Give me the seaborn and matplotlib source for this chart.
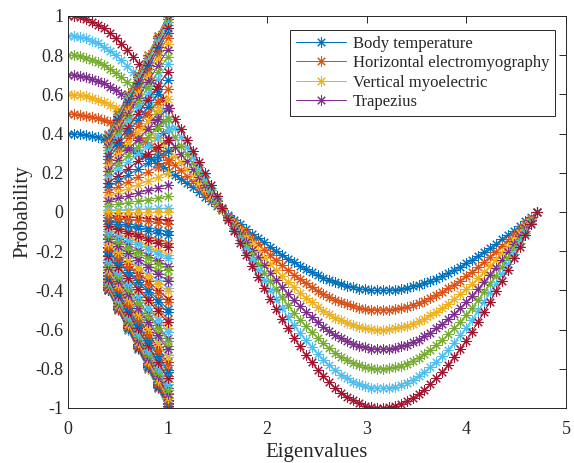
import numpy as np
import pandas as pd
import matplotlib
matplotlib.use("Agg")
import matplotlib.pyplot as plt
from matplotlib.lines import Line2D
import seaborn as sns

# ---- data ----
amplitudes = [0.4, 0.5, 0.6, 0.7, 0.8, 0.9, 1.0]
t_start, t_end, n_points = 0.0, 3 * np.pi / 2, 80
eigenvalues = np.linspace(t_start, t_end, n_points)
legend_labels = ["Body temperature", "Horizontal electromyography",
                 "Vertical myoelectric", "Trapezius"]
x_ticks = [0, 1, 2, 3, 4, 5]
y_ticks = [-1, -0.8, -0.6, -0.4, -0.2, 0, 0.2, 0.4, 0.6, 0.8, 1]
y_tick_labels = ["-1", "-0.8", "-0.6", "-0.4", "-0.2", "0", "0.2", "0.4", "0.6", "0.8", "1"]

matlab_colors = [(0, 0.447, 0.741), (0.85, 0.325, 0.098), (0.929, 0.694, 0.125),
                 (0.494, 0.184, 0.556), (0.466, 0.674, 0.188), (0.301, 0.745, 0.933),
                 (0.635, 0.078, 0.184)]

# Y matrix: each row = amplitude * cos(eigenvalues)
Y = np.outer(amplitudes, np.cos(eigenvalues))

rows = []
order = []
palette = {}
# curves vs eigenvalues
for i, a in enumerate(amplitudes):
    key = f"c{i}"
    order.append(key)
    palette[key] = matlab_colors[i % 7]
    for x, y in zip(eigenvalues, Y[i]):
        rows.append((key, x, y))
# columns plotted against amplitudes (fan)
for j in range(n_points):
    key = f"f{j}"
    order.append(key)
    palette[key] = matlab_colors[(len(amplitudes) + j) % 7]
    for a, y in zip(amplitudes, Y[:, j]):
        rows.append((key, a, y))
df = pd.DataFrame(rows, columns=["series", "x", "y"])

sns.set_style("white")
plt.rcParams["font.family"] = ["Liberation Serif", "DejaVu Serif"]
plt.rcParams["axes.unicode_minus"] = False

fig = plt.figure(figsize=(5.74, 4.63), dpi=100)
ax = fig.add_axes([68 / 574, 1 - 408 / 463, (566 - 68) / 574, (408 - 16) / 463])

marker = (8, 2, 0)
sns.lineplot(data=df, x="x", y="y", hue="series", hue_order=order, palette=palette,
             estimator=None, sort=False, marker=marker, markersize=7.5,
             linewidth=0.75, legend=False, ax=ax)
for ln in ax.lines:
    ln.set_markeredgecolor(ln.get_color())
    ln.set_markeredgewidth(0.75)

ax.set_xlim(0, 5)
ax.set_ylim(-1, 1)
ax.set_xticks(x_ticks)
ax.set_xticklabels([str(v) for v in x_ticks])
ax.set_yticks(y_ticks)
ax.set_yticklabels(y_tick_labels)
ax.tick_params(direction="in", length=5, width=0.7, labelsize=13, colors="#262626",
               top=True, right=True)
ax.tick_params(axis="x", pad=9)
ax.tick_params(axis="y", pad=3.5)
for s in ax.spines.values():
    s.set_color("#262626")
    s.set_linewidth(0.7)
ax.set_xlabel("Eigenvalues", fontsize=15, color="#262626", labelpad=4)
ax.set_ylabel("Probability", fontsize=15, color="#262626", labelpad=2)

handles = [Line2D([0], [0], color=matlab_colors[i], linewidth=0.75, marker=marker,
                  markersize=7.5, markeredgewidth=0.75, markeredgecolor=matlab_colors[i])
           for i in range(4)]
leg = ax.legend(handles, legend_labels, loc="upper right", bbox_to_anchor=(0.978, 0.964),
                fontsize=12, frameon=True, fancybox=False, framealpha=1,
                edgecolor="#262626", handlelength=3.0, labelspacing=0.2,
                borderpad=0.35, handletextpad=0.4, borderaxespad=0)
leg.get_frame().set_linewidth(0.7)

fig.savefig("out.png", dpi=100)
